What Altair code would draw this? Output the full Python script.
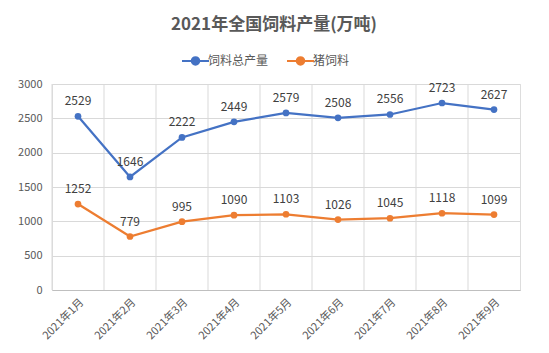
import altair as alt
import pandas as pd

months = ["2021年1月", "2021年2月", "2021年3月", "2021年4月", "2021年5月",
          "2021年6月", "2021年7月", "2021年8月", "2021年9月"]
total = [2529, 1646, 2222, 2449, 2579, 2508, 2556, 2723, 2627]
pig = [1252, 779, 995, 1090, 1103, 1026, 1045, 1118, 1099]
series = ["饲料总产量", "猪饲料"]
colors = ["#4472C4", "#ED7D31"]
yticks = [0, 500, 1000, 1500, 2000, 2500, 3000]

rows = []
for m, t, p in zip(months, total, pig):
    rows.append({"month": m, "series": series[0], "value": t})
    rows.append({"month": m, "series": series[1], "value": p})
df = pd.DataFrame(rows)
grid_df = pd.DataFrame({"month": months})

FONT = "Noto Sans CJK SC"

xscale = alt.Scale(type="band", domain=months, paddingInner=0, paddingOuter=0)
yscale = alt.Scale(domain=[0, 3000])
xaxis = alt.Axis(title=None, labelAngle=-45, labelFont=FONT, labelFontSize=11,
                 labelColor="#595959", ticks=False, domainColor="#bfbfbf",
                 labelPadding=6, grid=False, labelOverlap=False)
yaxis = alt.Axis(title=None, values=yticks, format="d", labelOverlap=False,
                 labelFont=FONT, labelFontSize=11, labelColor="#595959",
                 ticks=False, domain=False, gridColor="#d9d9d9", labelPadding=10)

grid = alt.Chart(grid_df).mark_rule(color="#d9d9d9", strokeWidth=1).encode(
    x=alt.X("month:N", scale=xscale, bandPosition=0, axis=xaxis, sort=months)
)

lines = alt.Chart(df).mark_line(
    strokeWidth=2.25,
    point=alt.OverlayMarkDef(filled=True, size=45),
).encode(
    x=alt.X("month:N", scale=xscale, sort=months, axis=xaxis),
    y=alt.Y("value:Q", scale=yscale, axis=yaxis),
    color=alt.Color("series:N", scale=alt.Scale(domain=series, range=colors),
                    sort=series,
                    legend=alt.Legend(title=None, orient="none", direction="horizontal",
                                      legendX=135, legendY=-32,
                                      labelFont=FONT, labelFontSize=12, labelColor="#595959",
                                      symbolType="M-1.8,0L1.8,0M0.5,0A0.5,0.5 0 1,1 -0.5,0A0.5,0.5 0 1,1 0.5,0",
                                      symbolSize=225, symbolStrokeWidth=2,
                                      columnPadding=14, labelOffset=4)),
    order=alt.Order("month:N"),
)

labels = alt.Chart(df).mark_text(
    font=FONT, fontSize=12, color="#404040", baseline="bottom", dy=-8
).encode(
    x=alt.X("month:N", scale=xscale, sort=months, axis=xaxis),
    y=alt.Y("value:Q", scale=yscale, axis=yaxis),
    text=alt.Text("value:Q"),
)

chart = alt.layer(grid, lines, labels).properties(
    width=468, height=206,
    title=alt.Title("2021年全国饲料产量(万吨)", font=FONT, fontSize=17, fontWeight="bold",
                    color="#595959", anchor="middle", dx=-12, offset=18),
    autosize="none",
    padding={"left": 52, "top": 84, "right": 29, "bottom": 63},
).configure_view(stroke="#d9d9d9").configure(background="white")

chart.save("out.html", embed_options={"renderer": "svg", "actions": False})
